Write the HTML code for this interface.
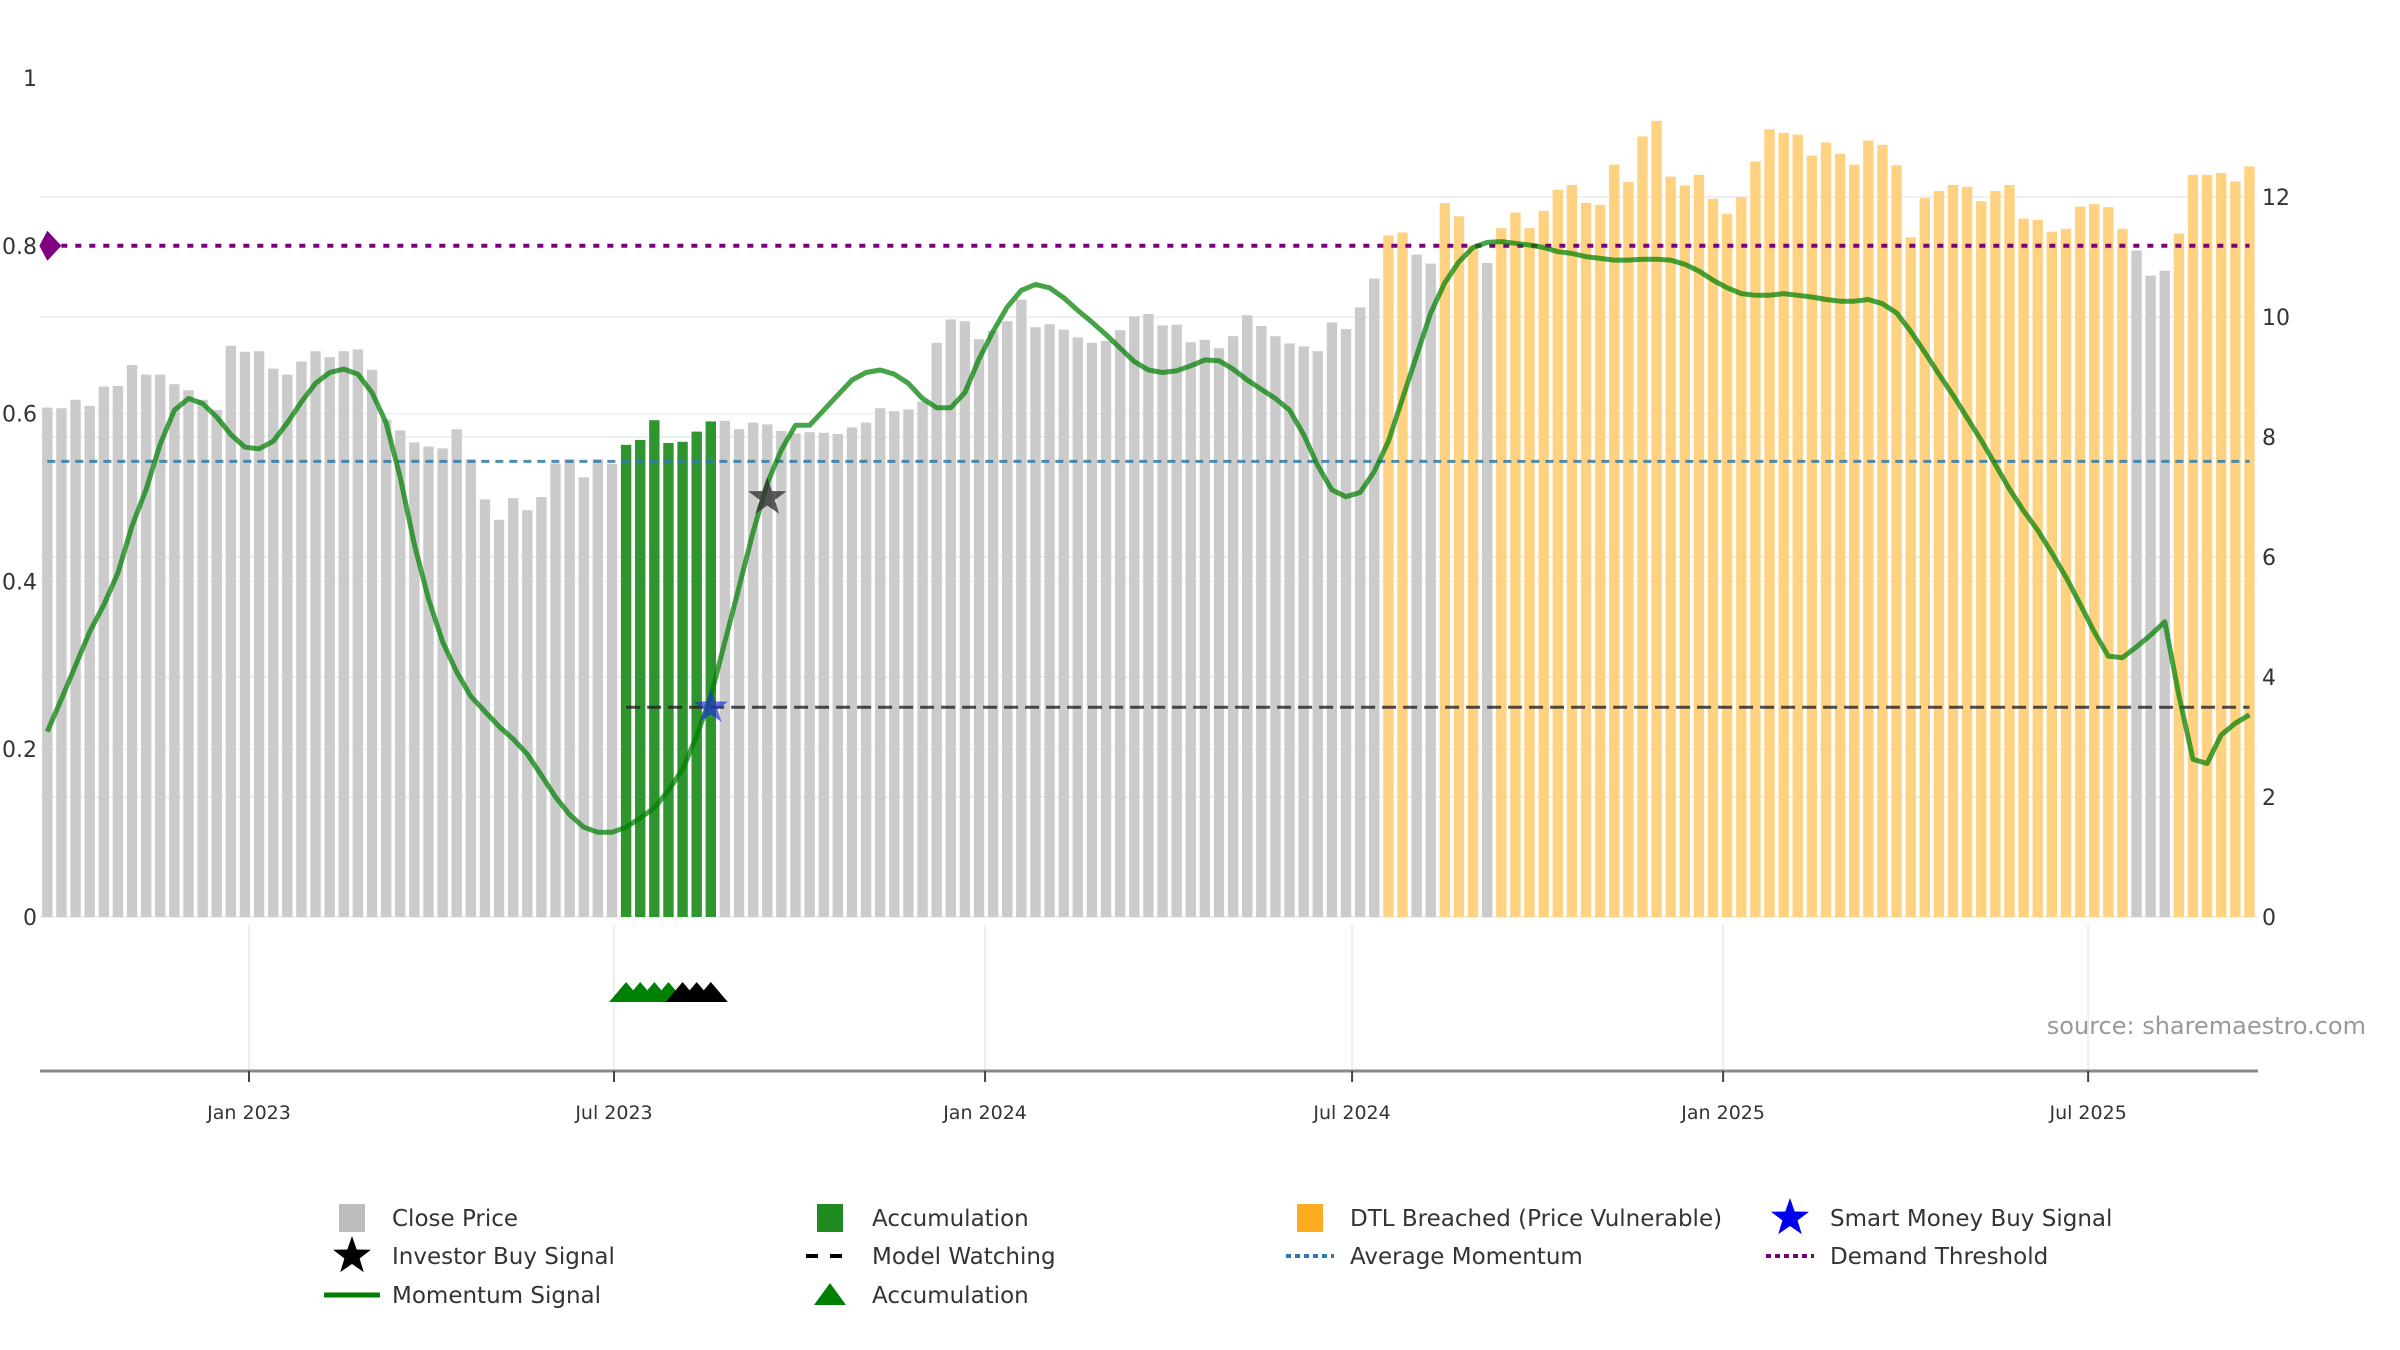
<!DOCTYPE html>
<html><head><meta charset="utf-8">
<style>
html,body{margin:0;padding:0;background:#fff;}
svg{display:block;font-family:"DejaVu Sans","Liberation Sans",sans-serif;}
</style></head>
<body>
<svg id="chart" width="2400" height="1350" viewBox="0 0 2400 1350" xmlns="http://www.w3.org/2000/svg">
<rect width="2400" height="1350" fill="#fff"/>
<g id="grid"></g>
<g id="bars"></g>
<g id="lines"></g>
<g id="series"></g>
<g id="axes"></g>
<text x="2366" y="1034" text-anchor="end" font-size="24" fill="#999">source: sharemaestro.com</text>
<g id="legend"></g>
</svg>
<script>
const prices = [8.49,8.48,8.62,8.52,8.84,8.85,9.20,9.04,9.04,8.88,8.78,8.62,8.45,9.52,9.42,9.43,9.14,9.04,9.26,9.43,9.33,9.43,9.46,9.12,8.29,8.11,7.91,7.84,7.81,8.13,7.63,6.96,6.62,6.98,6.78,7.00,7.56,7.63,7.33,7.63,7.55,7.87,7.95,8.28,7.90,7.92,8.09,8.26,8.27,8.13,8.24,8.21,8.10,8.06,
8.08,8.07,8.05,8.16,8.24,8.48,8.43,8.46,8.59,9.57,9.96,9.93,9.63,9.77,9.93,10.29,9.83,9.88,9.79,9.66,9.57,9.60,9.78,10.01,10.05,9.86,9.87,9.58,9.62,9.48,9.68,10.03,9.85,9.68,9.56,9.51,9.43,9.91,9.80,10.16,10.64,11.36,11.41,11.04,10.89,11.90,11.68,11.19,10.90,11.48,11.74,11.48,11.77,12.12,12.20,11.90,11.87,12.54,12.25,13.01,13.27,12.34,12.19,12.37,11.97,11.72,12.00,12.59,13.13,13.07,13.04,12.69,12.91,12.72,12.54,12.94,12.87,12.53,11.33,11.98,12.10,12.20,12.17,11.93,12.10,12.20,11.64,11.62,11.42,11.47,11.84,11.88,11.83,11.47,11.11,10.69,10.77,11.39,12.37,12.37,12.40,12.26,12.51];
const status = ('n'.repeat(41)+'a'.repeat(7)+'n'.repeat(47)+'dd'+'nn'+'ddd'+'n'+'d'.repeat(45)+'nnn'+'d'.repeat(6)).split('');
const momentum = [0.221,0.26,0.30,0.34,0.372,0.41,0.466,0.51,0.564,0.604,0.618,0.612,0.596,0.575,0.560,0.558,0.567,0.589,0.614,0.636,0.649,0.653,0.647,0.625,0.589,0.524,0.444,0.379,0.328,0.292,0.263,0.245,0.227,0.212,0.194,0.169,0.143,0.122,0.107,0.101,0.101,0.107,0.118,0.130,0.151,0.176,0.216,0.263,0.328,0.393,0.459,0.517,0.557,0.586,
0.586,0.604,0.622,0.640,0.649,0.652,0.647,0.636,0.618,0.607,0.607,0.625,0.665,0.698,0.727,0.747,0.754,0.750,0.738,0.723,0.709,0.694,0.678,0.662,0.652,0.649,0.651,0.657,0.664,0.663,0.653,0.640,0.629,0.618,0.604,0.575,0.538,0.509,0.501,0.506,0.531,0.567,0.618,0.669,0.720,0.756,0.781,0.798,0.804,0.805,0.803,0.801,0.798,0.793,0.791,0.787,
0.785,0.783,0.783,0.784,0.784,0.783,0.778,0.770,0.759,0.750,0.743,0.741,0.741,0.743,0.741,0.739,0.736,0.734,0.734,0.736,0.731,0.720,0.698,0.673,0.647,0.622,0.595,0.568,0.539,0.510,0.484,0.461,0.434,0.405,0.373,0.340,0.311,0.309,0.322,0.336,0.352,0.264,0.188,0.183,0.217,0.231,0.241];
const startDate = '2022-09-23';
const xTickDates = ['2023-01-01','2023-07-01','2024-01-01','2024-07-01','2025-01-01','2025-07-01'];
const xTickLabels = ['Jan 2023','Jul 2023','Jan 2024','Jul 2024','Jan 2025','Jul 2025'];
const leftTicks = [0,0.2,0.4,0.6,0.8,1];
const leftTickLabels = ['0','0.2','0.4','0.6','0.8','1'];
const leftGridTicks = [0.2,0.4,0.6];
const rightTicks = [0,2,4,6,8,10,12];
const demandThreshold = 0.8;
const avgMomentum = 0.543;
const modelWatching = 0.25;
const modelWatchStart = 41;
const smartMoneyIdx = [47];
const smartMoneyVal = [0.25];
const investorIdx = [51];
const investorVal = [0.5];
const accTriIdx = [41,42,43,44];
const blackTriIdx = [45,46,47];

const NS='http://www.w3.org/2000/svg';
const PL=40, PR=2258, Y0=917;
const dayMs=86400000, ref=Date.UTC(2023,0,1);
function days(s){const p=s.split('-');return (Date.UTC(+p[0],+p[1]-1,+p[2])-ref)/dayMs;}
function xDay(d){return 249+d*2.0166;}
const d0=days(startDate);
function xBar(i){return xDay(d0+7*i);}
function yL(v){return Y0-v*839;}
function yR(v){return Y0-v*60;}
function mk(tag,attrs,parent){const e=document.createElementNS(NS,tag);for(const k in attrs)e.setAttribute(k,attrs[k]);parent.appendChild(e);return e;}
const G=id=>document.getElementById(id);

const grid=G('grid');
rightTicks.forEach(t=>{const l=mk('line',{x1:PL,x2:PR,y1:yR(t),y2:yR(t),stroke:'#eef0f4','stroke-width':2},grid);

});
leftGridTicks.forEach(t=>{const l=mk('line',{x1:PL,x2:PR,y1:yL(t),y2:yL(t),stroke:'#f1f2f5','stroke-width':2},grid);

});
xTickDates.forEach(d=>{const x=xDay(days(d));const l=mk('line',{x1:x,x2:x,y1:925,y2:1071,stroke:'#eceef2','stroke-width':2},grid);

});

const colors={n:'#cbcbcb',a:'#2f952f',d:'#ffd282'};
const bars=G('bars');
prices.forEach((p,i)=>{const x=xBar(i);const r=mk('rect',{x:x-5.2,y:yR(p),width:10.4,height:Y0-yR(p),fill:colors[status[i]]},bars);

});

const lines=G('lines');
let l1=mk('line',{x1:xBar(0),x2:xBar(prices.length-1),y1:yL(avgMomentum),y2:yL(avgMomentum),stroke:'#2f7aa8','stroke-width':3,'stroke-dasharray':'8 6','opacity':0.85},lines);


let l2=mk('line',{x1:xBar(modelWatchStart),x2:xBar(prices.length-1),y1:yL(modelWatching),y2:yL(modelWatching),stroke:'#222','stroke-width':3,'stroke-dasharray':'14 7','opacity':0.8},lines);


let l3=mk('line',{x1:xBar(0),x2:xBar(prices.length-1),y1:yL(demandThreshold),y2:yL(demandThreshold),stroke:'#7a007a','stroke-width':4,'stroke-dasharray':'6 8'},lines);


const dx=xBar(0), dy=yL(demandThreshold);
let dm=mk('polygon',{points:`${dx-8},${dy} ${dx},${dy-15} ${dx+14},${dy} ${dx},${dy+15}`,fill:'#800080'},lines);



const series=G('series');
const pts=momentum.map((v,i)=>xBar(i).toFixed(1)+','+yL(v).toFixed(1)).join(' ');
let ml=mk('polyline',{points:pts,fill:'none',stroke:'#008000','stroke-width':5,'stroke-opacity':0.72,'stroke-linejoin':'round'},series);



function star(cx,cy,R,fill,op,parent){let s='';for(let k=0;k<10;k++){const r=k%2?R*0.4:R;const a=-Math.PI/2+k*Math.PI/5;s+=(cx+r*Math.cos(a)).toFixed(1)+','+(cy+r*Math.sin(a)).toFixed(1)+' ';}
return mk('polygon',{points:s,fill:fill,opacity:op},parent);}
smartMoneyIdx.forEach((idx,j)=>{const e=star(xBar(idx),yL(smartMoneyVal[j]),18,'#2233cc',0.7,series);

});
investorIdx.forEach((idx,j)=>{const e=star(xBar(idx),yL(investorVal[j]),20,'#333',0.8,series);

});
function tri(i,fill){const x=xBar(i);return mk('polygon',{points:`${x-17},1002 ${x},982 ${x+17},1002`,fill:fill},series);}
accTriIdx.forEach(i=>{const t=tri(i,'#008000');

});
blackTriIdx.forEach(i=>{const t=tri(i,'#000');

});

const axes=G('axes');
let ax=mk('line',{x1:PL,x2:PR,y1:1071,y2:1071,stroke:'#888','stroke-width':3},axes);


xTickDates.forEach((d,i)=>{const x=xDay(days(d));
const tk=mk('line',{x1:x,x2:x,y1:1071,y2:1082,stroke:'#444','stroke-width':2},axes);


const t=mk('text',{x:x,y:1119,'text-anchor':'middle','font-size':19,fill:'#333'},axes);t.textContent=xTickLabels[i];

});
leftTicks.forEach((v,i)=>{const t=mk('text',{x:37,y:yL(v)+8,'text-anchor':'end','font-size':22,fill:'#333'},axes);t.textContent=leftTickLabels[i];

});
rightTicks.forEach(v=>{const t=mk('text',{x:2262,y:yR(v)+8,'font-size':22,fill:'#333'},axes);t.textContent=String(v);

});

const lg=G('legend');
const rows=[1218,1256,1295], colsSym=[352,830,1310,1790], colsTxt=[392,872,1350,1830];
function ltext(c,r,s){const t=mk('text',{x:colsTxt[c],y:rows[r]+8,'font-size':23,fill:'#333'},lg);t.textContent=s;

}
function sq(c,r,fill){const e=mk('rect',{x:colsSym[c]-13,y:rows[r]-14,width:26,height:28,fill:fill},lg);

}
sq(0,0,'#bdbdbd');ltext(0,0,'Close Price');
sq(1,0,'#1f8a1f');ltext(1,0,'Accumulation');
sq(2,0,'#ffab1f');ltext(2,0,'DTL Breached (Price Vulnerable)');
let s1=star(colsSym[3],rows[0],20,'#0000ee',1,lg);


ltext(3,0,'Smart Money Buy Signal');
let s2=star(colsSym[0],rows[1],20,'#000',1,lg);


ltext(0,1,'Investor Buy Signal');
let d1=mk('line',{x1:colsSym[1]-24,x2:colsSym[1]+24,y1:rows[1],y2:rows[1],stroke:'#000','stroke-width':4,'stroke-dasharray':'12 12'},lg);


ltext(1,1,'Model Watching');
let d2=mk('line',{x1:colsSym[2]-24,x2:colsSym[2]+24,y1:rows[1],y2:rows[1],stroke:'#2f7aa8','stroke-width':4,'stroke-dasharray':'5 4'},lg);


ltext(2,1,'Average Momentum');
let d3=mk('line',{x1:colsSym[3]-24,x2:colsSym[3]+24,y1:rows[1],y2:rows[1],stroke:'#7a007a','stroke-width':4,'stroke-dasharray':'5 4'},lg);


ltext(3,1,'Demand Threshold');
let d4=mk('line',{x1:colsSym[0]-28,x2:colsSym[0]+28,y1:rows[2],y2:rows[2],stroke:'#008000','stroke-width':5},lg);


ltext(0,2,'Momentum Signal');
let tr=mk('polygon',{points:`${colsSym[1]-16},${rows[2]+10} ${colsSym[1]},${rows[2]-12} ${colsSym[1]+16},${rows[2]+10}`,fill:'#008000'},lg);


ltext(1,2,'Accumulation');
</script>
</body></html>
